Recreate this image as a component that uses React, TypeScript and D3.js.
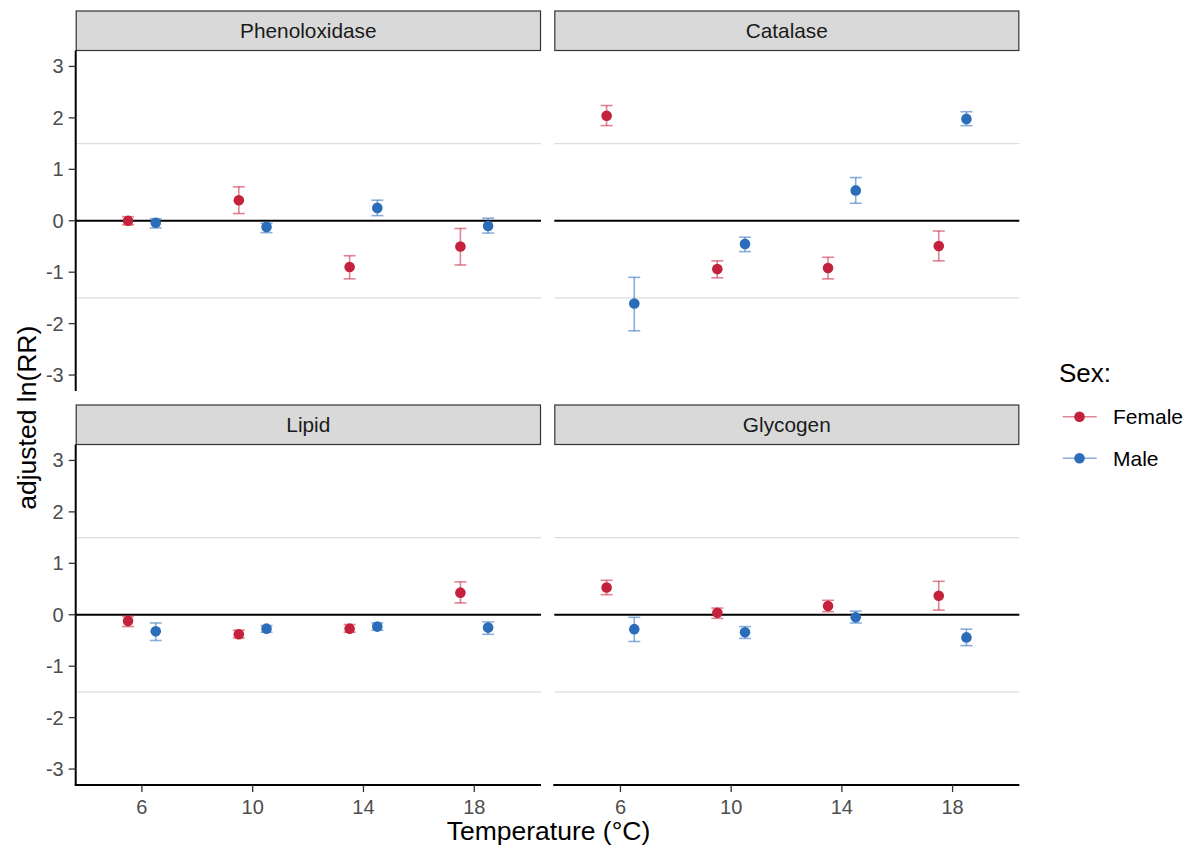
import React from "react";
import * as d3 from "d3";

// ---- data ----
const temps = [6, 10, 14, 18];
const panels = ["Phenoloxidase", "Catalase", "Lipid", "Glycogen"];
const sexes = ["Female", "Male"];
const xTicks = [6, 10, 14, 18];
const yTicks = [-3, -2, -1, 0, 1, 2, 3];
const refLines = [-1.5, 1.5];

// per panel (order as panels), per temperature
const femaleMean = [
  [0.0, 0.4, -0.9, -0.5],
  [2.04, -0.94, -0.92, -0.49],
  [-0.12, -0.38, -0.27, 0.43],
  [0.53, 0.04, 0.17, 0.37],
];
const femaleLow = [
  [-0.08, 0.14, -1.13, -0.86],
  [1.85, -1.11, -1.13, -0.78],
  [-0.23, -0.45, -0.34, 0.23],
  [0.39, -0.07, 0.06, 0.09],
];
const femaleHigh = [
  [0.08, 0.66, -0.68, -0.15],
  [2.24, -0.78, -0.71, -0.2],
  [-0.03, -0.3, -0.19, 0.64],
  [0.67, 0.13, 0.28, 0.65],
];
const maleMean = [
  [-0.04, -0.12, 0.25, -0.1],
  [-1.61, -0.45, 0.59, 1.98],
  [-0.32, -0.27, -0.23, -0.25],
  [-0.28, -0.34, -0.05, -0.44],
];
const maleLow = [
  [-0.14, -0.23, 0.1, -0.24],
  [-2.14, -0.6, 0.34, 1.85],
  [-0.5, -0.34, -0.3, -0.38],
  [-0.52, -0.46, -0.16, -0.6],
];
const maleHigh = [
  [0.04, -0.05, 0.4, 0.05],
  [-1.1, -0.32, 0.84, 2.12],
  [-0.16, -0.21, -0.16, -0.14],
  [-0.05, -0.23, 0.07, -0.28],
];

// ---- style / layout ----
const W = 1191;
const H = 847;
const FONT = "'Liberation Sans', Arial, Helvetica, sans-serif";
const colors = { Female: "#C4213C", Male: "#2B6DB9" };
const dodge = { Female: -0.5, Male: 0.5 };
const colX = [
  [75.7, 541],
  [554.3, 1019.3],
];
const rowY = [
  [50.5, 391],
  [444.5, 785],
];
const stripH = 39.5;

export default function App() {
  const xDomain: [number, number] = [3.61, 20.41];
  const yDomain: [number, number] = [-3.31, 3.31];

  const panelEls = panels.map((name, pi) => {
    const col = pi % 2;
    const row = Math.floor(pi / 2);
    const [x0, x1] = colX[col];
    const [y0, y1] = rowY[row];
    const x = d3.scaleLinear().domain(xDomain).range([x0, x1]);
    const y = d3.scaleLinear().domain(yDomain).range([y1, y0]);
    const series = [
      { sex: "Female", mean: femaleMean[pi], lo: femaleLow[pi], hi: femaleHigh[pi] },
      { sex: "Male", mean: maleMean[pi], lo: maleLow[pi], hi: maleHigh[pi] },
    ];
    return (
      <g key={name}>
        {/* strip */}
        <rect
          x={x0 + 0.5}
          y={y0 - stripH}
          width={x1 - x0 - 1}
          height={stripH}
          fill="#D9D9D9"
          stroke="#333333"
          strokeWidth={1.2}
        />
        <text
          x={(x0 + x1) / 2}
          y={y0 - stripH / 2}
          dy="0.35em"
          textAnchor="middle"
          fontFamily={FONT}
          fontSize={20.8}
          fill="#1A1A1A"
        >
          {name}
        </text>
        {/* reference lines */}
        {refLines.map((v) => (
          <line key={v} x1={x0} x2={x1} y1={y(v)} y2={y(v)} stroke="#DEDEDE" strokeWidth={1.2} />
        ))}
        <line x1={x0} x2={x1} y1={y(0)} y2={y(0)} stroke="#000" strokeWidth={2} />
        {/* y axis (left column only) */}
        {col === 0 && (
          <g>
            <line x1={x0} x2={x0} y1={y0} y2={y1} stroke="#000" strokeWidth={2} />
            {yTicks.map((t) => (
              <g key={t}>
                <line x1={x0 - 7} x2={x0} y1={y(t)} y2={y(t)} stroke="#333" strokeWidth={1.3} />
                <text
                  x={x0 - 12}
                  y={y(t)}
                  dy="0.35em"
                  textAnchor="end"
                  fontFamily={FONT}
                  fontSize={20}
                  fill="#4D4D4D"
                >
                  {t}
                </text>
              </g>
            ))}
          </g>
        )}
        {/* x axis (bottom row only) */}
        {row === 1 && (
          <g>
            <line x1={x0 - 1} x2={x1} y1={y1} y2={y1} stroke="#000" strokeWidth={2} />
            {xTicks.map((t) => (
              <g key={t}>
                <line x1={x(t)} x2={x(t)} y1={y1} y2={y1 + 7} stroke="#333" strokeWidth={1.3} />
                <text
                  x={x(t)}
                  y={y1 + 21.5}
                  dy="0.35em"
                  textAnchor="middle"
                  fontFamily={FONT}
                  fontSize={20}
                  fill="#4D4D4D"
                >
                  {t}
                </text>
              </g>
            ))}
          </g>
        )}
        {/* data */}
        {series.map((s) => (
          <g key={s.sex}>
            {temps.map((t, i) => {
              const cx = x(t + dodge[s.sex as "Female" | "Male"]);
              const c = colors[s.sex as "Female" | "Male"];
              return (
                <g key={t}>
                  <g stroke={c} strokeWidth={1.6} strokeOpacity={0.55}>
                    <line x1={cx} x2={cx} y1={y(s.lo[i])} y2={y(s.hi[i])} />
                    <line x1={cx - 6} x2={cx + 6} y1={y(s.lo[i])} y2={y(s.lo[i])} />
                    <line x1={cx - 6} x2={cx + 6} y1={y(s.hi[i])} y2={y(s.hi[i])} />
                  </g>
                  <circle cx={cx} cy={y(s.mean[i])} r={5.3} fill={c} />
                </g>
              );
            })}
          </g>
        ))}
      </g>
    );
  });

  return (
    <svg
      width={W}
      height={H}
      style={{ position: "absolute", left: 0, top: 0, display: "block", background: "#fff" }}
    >
      <rect x={0} y={0} width={W} height={H} fill="#fff" />
      {panelEls}
      {/* axis titles */}
      <text
        x={548.5}
        y={830.5}
        dy="0.35em"
        textAnchor="middle"
        fontFamily={FONT}
        fontSize={26.5}
        fill="#000"
      >
        Temperature (°C)
      </text>
      <text
        transform={`translate(27, ${(rowY[0][0] + rowY[1][1]) / 2}) rotate(-90)`}
        dy="0.35em"
        textAnchor="middle"
        fontFamily={FONT}
        fontSize={26.5}
        fill="#000"
      >
        adjusted ln(RR)
      </text>
      {/* legend */}
      <text x={1059} y={373} dy="0.35em" fontFamily={FONT} fontSize={26} fill="#000">
        Sex:
      </text>
      {sexes.map((s, i) => {
        const ly = 416.7 + i * 41.6;
        const c = colors[s as "Female" | "Male"];
        return (
          <g key={s}>
            <line x1={1062.7} x2={1096.7} y1={ly} y2={ly} stroke={c} strokeOpacity={0.55} strokeWidth={1.6} />
            <circle cx={1079.5} cy={ly} r={5.3} fill={c} />
            <text x={1113} y={ly} dy="0.35em" fontFamily={FONT} fontSize={21} fill="#000">
              {s}
            </text>
          </g>
        );
      })}
    </svg>
  );
}
